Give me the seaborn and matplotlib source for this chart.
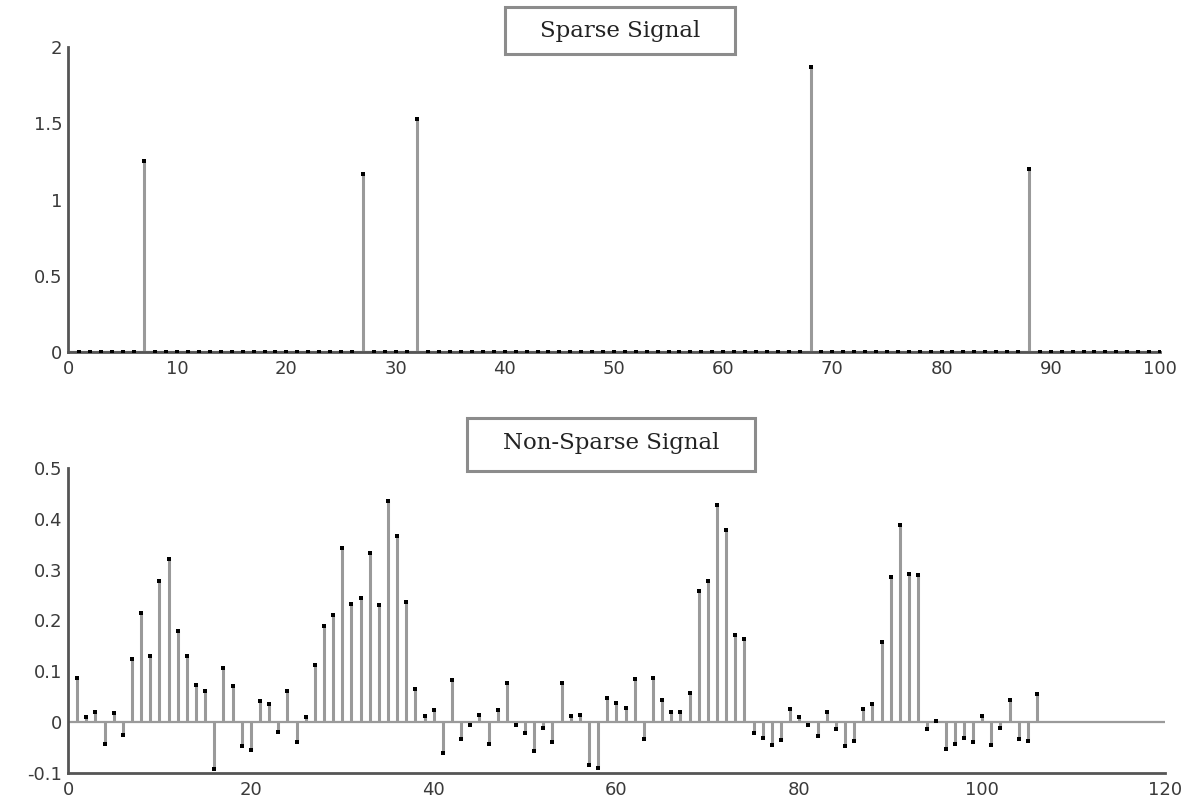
import numpy as np
import pandas as pd
import matplotlib
matplotlib.use("Agg")
import matplotlib.pyplot as plt
from matplotlib.patches import Rectangle
import seaborn as sns

# ##data
sparse_len = 100
sparse_pos = [7, 27, 32, 68, 88]
sparse_amp = [1.25, 1.17, 1.53, 1.87, 1.20]

nonsparse_val = [0.087, 0.010, 0.020, -0.043, 0.018, -0.026, 0.124, 0.214, 0.130, 0.278,
                 0.321, 0.180, 0.130, 0.074, 0.061, -0.092, 0.107, 0.071, -0.047, -0.055,
                 0.041, 0.035, -0.020, 0.062, -0.040, 0.011, 0.112, 0.190, 0.210, 0.343,
                 0.232, 0.245, 0.333, 0.231, 0.434, 0.366, 0.237, 0.066, 0.012, 0.024,
                 -0.060, 0.082, -0.033, -0.006, 0.015, -0.044, 0.024, 0.076, -0.006, -0.022,
                 -0.057, -0.011, -0.039, 0.076, 0.013, 0.015, -0.085, -0.091, 0.048, 0.037,
                 0.028, 0.084, -0.034, 0.086, 0.043, 0.020, 0.020, 0.058, 0.258, 0.277,
                 0.428, 0.377, 0.171, 0.163, -0.021, -0.031, -0.045, -0.036, 0.026, 0.010,
                 -0.005, -0.028, 0.020, -0.014, -0.047, -0.037, 0.026, 0.036, 0.158, 0.285,
                 0.387, 0.291, 0.290, -0.013, 0.003, -0.053, -0.044, -0.031, -0.039, 0.012,
                 -0.045, -0.012, 0.043, -0.034, -0.037, 0.055]

top_xticks = [0, 10, 20, 30, 40, 50, 60, 70, 80, 90, 100]
top_yticks = [0, 0.5, 1, 1.5, 2]
top_ylabels = ["0", "0.5", "1", "1.5", "2"]
bot_xticks = [0, 20, 40, 60, 80, 100, 120]
bot_yticks = [-0.1, 0, 0.1, 0.2, 0.3, 0.4, 0.5]
bot_ylabels = ["-0.1", "0", "0.1", "0.2", "0.3", "0.4", "0.5"]

# build tables
sparse = pd.DataFrame({"n": np.arange(1, sparse_len + 1), "val": 0.0})
sparse.loc[sparse["n"].isin(sparse_pos), "val"] = sparse_amp
nonsparse = pd.DataFrame({"n": np.arange(1, len(nonsparse_val) + 1), "val": nonsparse_val})

sns.set_style("white")
plt.rcParams['font.family'] = ['DejaVu Sans']

stem_col = "#9a9a9a"
axis_col = "#555555"

fig = plt.figure(figsize=(11.93, 8.01), dpi=100)
ax1 = fig.add_axes([0.057, 0.5605, 0.9153, 0.3808])
ax2 = fig.add_axes([0.057, 0.035, 0.9195, 0.3808])

def stemplot(ax, df, xlim, ylim):
    ax.plot(xlim, [0, 0], color=stem_col, lw=1.6, zorder=1)
    ax.vlines(df["n"], 0, df["val"], color=stem_col, lw=2.2, zorder=2)
    sns.scatterplot(data=df, x="n", y="val", ax=ax, color="black", marker="s",
                    s=7, linewidth=0, zorder=3, legend=False)
    ax.set_xlim(xlim)
    ax.set_ylim(ylim)
    ax.set_xlabel("")
    ax.set_ylabel("")
    sns.despine(ax=ax)
    for sp in ["left", "bottom"]:
        ax.spines[sp].set_color(axis_col)
        ax.spines[sp].set_linewidth(2)
    ax.tick_params(direction="in", length=6, width=1.2, color="#888888",
                   labelsize=13, labelcolor="#3a3a3a")
    ax.tick_params(axis="x", pad=6)
    ax.tick_params(axis="y", pad=4)

stemplot(ax1, sparse, (0, 100), (0, 2))
ax1.set_xticks(top_xticks)
ax1.set_yticks(top_yticks)
ax1.set_yticklabels(top_ylabels)

stemplot(ax2, nonsparse, (0, 120), (-0.1, 0.5))
ax2.set_xticks(bot_xticks)
ax2.set_yticks(bot_yticks)
ax2.set_yticklabels(bot_ylabels)

# boxed titles
for (x0, y0, w, h, tx, ty, label) in [
        (0.4233, 0.9326, 0.1928, 0.0587, 0.5197, 0.9613, "Sparse Signal"),
        (0.3915, 0.412, 0.2414, 0.0662, 0.512, 0.447, "Non-Sparse Signal")]:
    fig.patches.append(Rectangle((x0, y0), w, h, transform=fig.transFigure,
                                 facecolor="white", edgecolor="#8c8c8c", lw=2.2))
    fig.text(tx, ty, label, ha="center", va="center", fontsize=16.5,
             family=["DejaVu Serif"], color="#222222")

plt.savefig("out.png", dpi=100)
